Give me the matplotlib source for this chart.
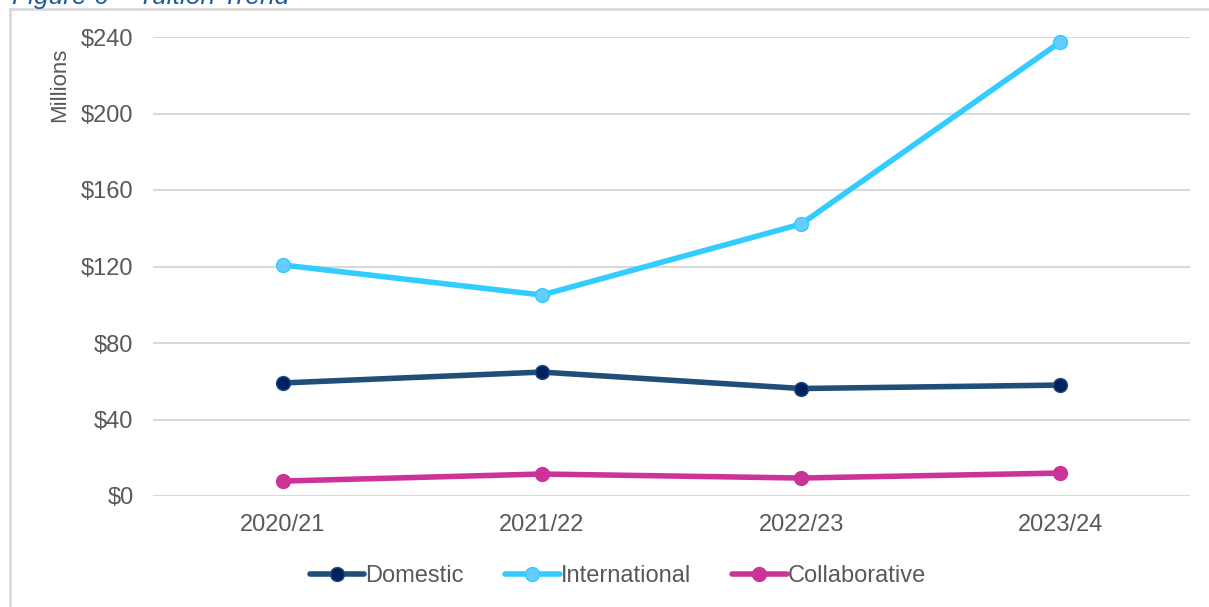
import matplotlib.pyplot as plt
from matplotlib.lines import Line2D

years = ["2020/21", "2021/22", "2022/23", "2023/24"]
domestic = [59.1, 64.8, 56.2, 58.0]
international = [120.8, 105.1, 142.2, 237.4]
collaborative = [7.8, 11.5, 9.4, 12.0]
y_ticks = [0, 40, 80, 120, 160, 200, 240]

plt.rcParams['font.family'] = ['Liberation Sans', 'DejaVu Sans']

fig = plt.figure(figsize=(12.09, 6.07), dpi=100)
W, H = 1209, 607
ax = fig.add_axes([153 / W, 1 - 496 / H, (1190 - 153) / W, (496 - 37) / H])

series = [
    ("Domestic", domestic, "#1F4E79", "#002060"),
    ("International", international, "#33CCFF", "#66CCFF"),
    ("Collaborative", collaborative, "#CC3399", "#CC3399"),
]
x = range(len(years))
for name, vals, lc, mc in series:
    ax.plot(x, vals, color=lc, lw=4, marker="o", ms=10, mfc=mc, mec=lc,
            mew=1, label=name, clip_on=False, zorder=3, solid_capstyle="round")

ax.set_xlim(-0.5, 3.5)
ax.set_ylim(0, 240)
ax.set_xticks(list(x))
ax.set_xticklabels(years)
ax.set_yticks(y_ticks)
ax.set_yticklabels([f"${v}" for v in y_ticks])
ax.grid(axis="y", color="#D9D9D9", lw=1.5)
ax.set_axisbelow(True)
for s in ax.spines.values():
    s.set_visible(False)
ax.tick_params(length=0, labelsize=17, labelcolor="#595959")
ax.tick_params(axis="y", pad=14)
ax.tick_params(axis="x", pad=13)

fig.text(60 / W, 1 - 85 / H, "Millions", rotation=90, ha="center", va="center",
         fontsize=16, color="#595959")

# outer frame and clipped caption
fig.add_artist(Line2D([10 / W, 10 / W], [0, 1 - 9 / H], color="#D9D9D9", lw=2))
fig.add_artist(Line2D([10 / W, 1], [1 - 9 / H, 1 - 9 / H], color="#D9D9D9", lw=2))
fig.text(12 / W, 1 - 4 / H, "Figure 6 \u2013 Tuition Trend", fontsize=19,
         style="italic", color="#1F5C99", ha="left", va="baseline")

fig.legend(loc="center", bbox_to_anchor=(618 / W, 1 - 576 / H), ncol=3,
           frameon=False, fontsize=17, handlelength=2.3, handletextpad=0.05,
           columnspacing=1.75, labelcolor="#595959")

fig.savefig("out.png", dpi=100, facecolor="white")
